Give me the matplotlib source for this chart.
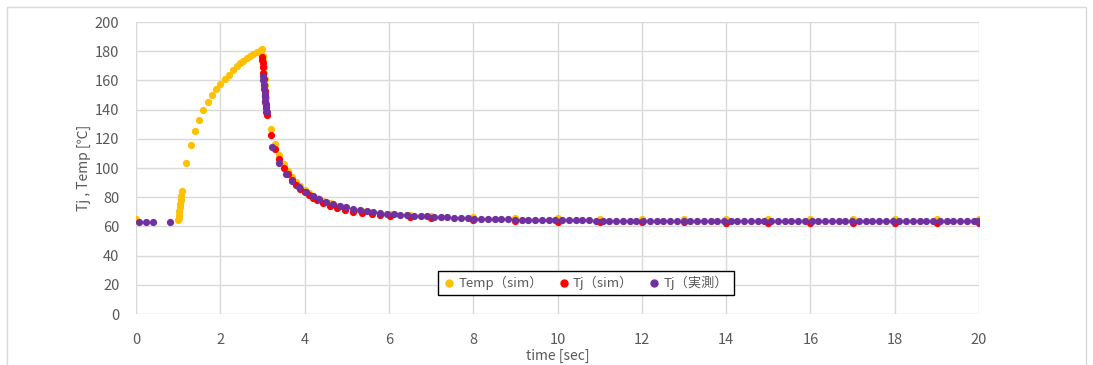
import matplotlib.pyplot as plt
from matplotlib.lines import Line2D

plt.rcParams['font.family'] = ['Noto Sans CJK JP', 'DejaVu Sans']

# Temp (sim)
temp_t = [0.0, 1.00, 1.01, 1.02, 1.03, 1.04, 1.05, 1.06, 1.07, 1.08,
          1.19, 1.30, 1.40, 1.49, 1.60, 1.70, 1.80, 1.90, 2.00, 2.10,
          2.20, 2.30, 2.40, 2.47, 2.55, 2.63, 2.70, 2.78, 2.86, 2.94,
          2.97, 3.00, 3.01, 3.02, 3.03, 3.04, 3.05, 3.06, 3.07, 3.08,
          3.09, 3.10, 3.20, 3.30, 3.40, 3.50, 3.60, 3.70, 3.80, 3.90,
          4.00, 4.10, 4.20, 4.30, 4.44, 4.60, 4.77, 4.95, 5.15, 5.37,
          5.60, 5.80, 6.03, 6.50, 7, 8, 9, 10, 11, 12,
          13, 14, 15, 16, 17, 18, 19, 20]
temp_v = [65.0, 64.5, 66.0, 68.0, 70.5, 73.0, 75.5, 78.0, 81.0, 84.5,
          103.2, 115.8, 125.6, 133.0, 139.7, 145.2, 150.0, 154.0, 157.7, 161.0,
          164.0, 167.0, 169.6, 171.7, 173.5, 175.1, 176.7, 178.1, 179.2, 180.3,
          180.8, 181.3, 177.0, 173.0, 169.0, 165.0, 161.0, 157.0, 153.0, 148.0,
          143.0, 138.0, 126.7, 116.4, 108.7, 102.7, 97.8, 93.8, 90.4, 87.5,
          85.0, 82.9, 81.0, 79.4, 77.5, 75.7, 74.1, 72.7, 71.4, 70.3,
          69.4, 68.8, 68.2, 67.6, 67.2, 66.6, 66.0, 65.6, 65.3, 65.1,
          65.0, 64.9, 64.9, 64.9, 64.8, 64.8, 64.8, 64.8]

# Tj (sim)
tjsim_t = [2.99, 3.00, 3.005, 3.01, 3.02, 3.03, 3.04, 3.05, 3.06, 3.07,
           3.08, 3.09, 3.10, 3.20, 3.30, 3.40, 3.50, 3.60, 3.70, 3.80,
           3.90, 4.00, 4.10, 4.20, 4.30, 4.44, 4.60, 4.77, 4.95, 5.15,
           5.37, 5.60, 5.80, 6.03, 6.50, 7, 8, 9, 10, 11,
           12, 13, 14, 15, 16, 17, 18, 19, 20]
tjsim_v = [176.0, 174.0, 172.0, 169.0, 165.0, 161.0, 157.0, 153.0, 149.0, 145.0,
           141.5, 138.5, 136.0, 122.8, 113.0, 106.0, 100.2, 95.6, 91.8, 88.6,
           85.8, 83.4, 81.3, 79.5, 77.9, 76.1, 74.3, 72.8, 71.4, 70.1,
           69.1, 68.2, 67.6, 67.1, 66.2, 65.6, 64.3, 63.7, 63.3, 63.0,
           62.8, 62.7, 62.6, 62.6, 62.6, 62.5, 62.5, 62.5, 62.5]

# Tj (measured)
meas_t = [0.08, 0.24, 0.40, 0.81,
          3.01, 3.02, 3.03, 3.04, 3.05, 3.06, 3.07, 3.08, 3.09, 3.10,
          3.23, 3.39, 3.55, 3.71, 3.87, 4.03, 4.19, 4.35, 4.51, 4.67,
          4.83, 4.99, 5.15, 5.31, 5.47, 5.63, 5.79, 5.95, 6.11, 6.27,
          6.43, 6.59, 6.75, 6.91, 7.07, 7.23, 7.39, 7.55, 7.71, 7.87,
          8.03, 8.19, 8.35, 8.51, 8.67, 8.83, 8.99, 9.15, 9.31, 9.47,
          9.63, 9.79, 9.95, 10.11, 10.27, 10.43, 10.59, 10.75, 10.91, 11.07,
          11.23, 11.39, 11.55, 11.71, 11.87, 12.03, 12.19, 12.35, 12.51, 12.67,
          12.83, 12.99, 13.15, 13.31, 13.47, 13.63, 13.79, 13.95, 14.11, 14.27,
          14.43, 14.59, 14.75, 14.91, 15.07, 15.23, 15.39, 15.55, 15.71, 15.87,
          16.03, 16.19, 16.35, 16.51, 16.67, 16.83, 16.99, 17.15, 17.31, 17.47,
          17.63, 17.79, 17.95, 18.11, 18.27, 18.43, 18.59, 18.75, 18.91, 19.07,
          19.23, 19.39, 19.55, 19.71, 19.87, 19.97]
meas_v = [63.2, 63.2, 63.2, 63.3,
          163.0, 160.0, 157.0, 154.0, 151.0, 148.5, 146.0, 143.5, 141.0, 138.5,
          114.6, 103.6, 96.0, 91.0, 86.8, 83.5, 80.8, 78.8, 77.0, 75.5,
          74.2, 73.0, 72.0, 71.2, 70.5, 69.8, 69.2, 68.7, 68.3, 67.9,
          67.6, 67.3, 67.0, 66.8, 66.6, 66.3, 66.1, 65.9, 65.7, 65.5,
          65.3, 65.2, 65.1, 65.0, 64.9, 64.8, 64.7, 64.6, 64.6, 64.5,
          64.4, 64.4, 64.3, 64.3, 64.2, 64.2, 64.1, 64.1, 64.0, 64.0,
          64.0, 63.9, 63.9, 63.9, 63.8, 63.8, 63.8, 63.8, 63.8, 63.7,
          63.7, 63.7, 63.7, 63.7, 63.7, 63.6, 63.6, 63.6, 63.6, 63.6,
          63.6, 63.6, 63.6, 63.6, 63.6, 63.6, 63.5, 63.5, 63.5, 63.5,
          63.5, 63.5, 63.5, 63.5, 63.5, 63.5, 63.5, 63.5, 63.5, 63.5,
          63.5, 63.5, 63.5, 63.5, 63.4, 63.4, 63.4, 63.4, 63.4, 63.4,
          63.4, 63.4, 63.4, 63.4, 63.4, 63.4]

series_labels = ['Temp（sim）', 'Tj（sim）', 'Tj（実測）']
colors = ['#FFC000', '#FF0000', '#7030A0']

fig = plt.figure(figsize=(10.93, 3.65), dpi=100)
ax = fig.add_axes([136 / 1093, 1 - 314 / 365, 843 / 1093, 292 / 365])

# chart area border
fig.add_artist(plt.Rectangle((7 / 1093, -0.05), 1079 / 1093, 1.05 - 7 / 365,
                             transform=fig.transFigure, fill=False,
                             edgecolor='#D9D9D9', linewidth=1))

ax.scatter(temp_t, temp_v, s=27, color=colors[0], linewidths=0, zorder=3)
ax.scatter(tjsim_t, tjsim_v, s=27, color=colors[1], linewidths=0, zorder=4)
ax.scatter(meas_t, meas_v, s=27, color=colors[2], linewidths=0, zorder=5)

ax.set_xlim(0, 20)
ax.set_ylim(0, 200)
ax.set_xticks(range(0, 21, 2))
ax.set_yticks(range(0, 201, 20))
ax.grid(True, color='#D9D9D9', linewidth=1)
ax.set_axisbelow(True)
for s in ax.spines.values():
    s.set_visible(False)
ax.tick_params(length=0, labelsize=10.5, colors='#595959', pad=12)
ax.tick_params(axis='x', pad=14)

ax.set_xlabel('time [sec]', fontsize=10, color='#595959', labelpad=1)
ax.set_ylabel('Tj , Temp [℃]', fontsize=10, color='#595959', labelpad=3)

handles = [Line2D([], [], marker='o', linestyle='none', markersize=5,
                  markerfacecolor=c, markeredgecolor=c) for c in colors]
leg = ax.legend(handles, series_labels, ncol=3, loc='center',
                bbox_to_anchor=(450 / 843, 31 / 292), fontsize=9.5,
                fancybox=False, edgecolor='black', framealpha=1,
                handlelength=0.8, handletextpad=0.3, columnspacing=1.2,
                borderpad=0.4, labelcolor='#595959')
leg.get_frame().set_linewidth(1)

fig.savefig('out.png', dpi=100)
